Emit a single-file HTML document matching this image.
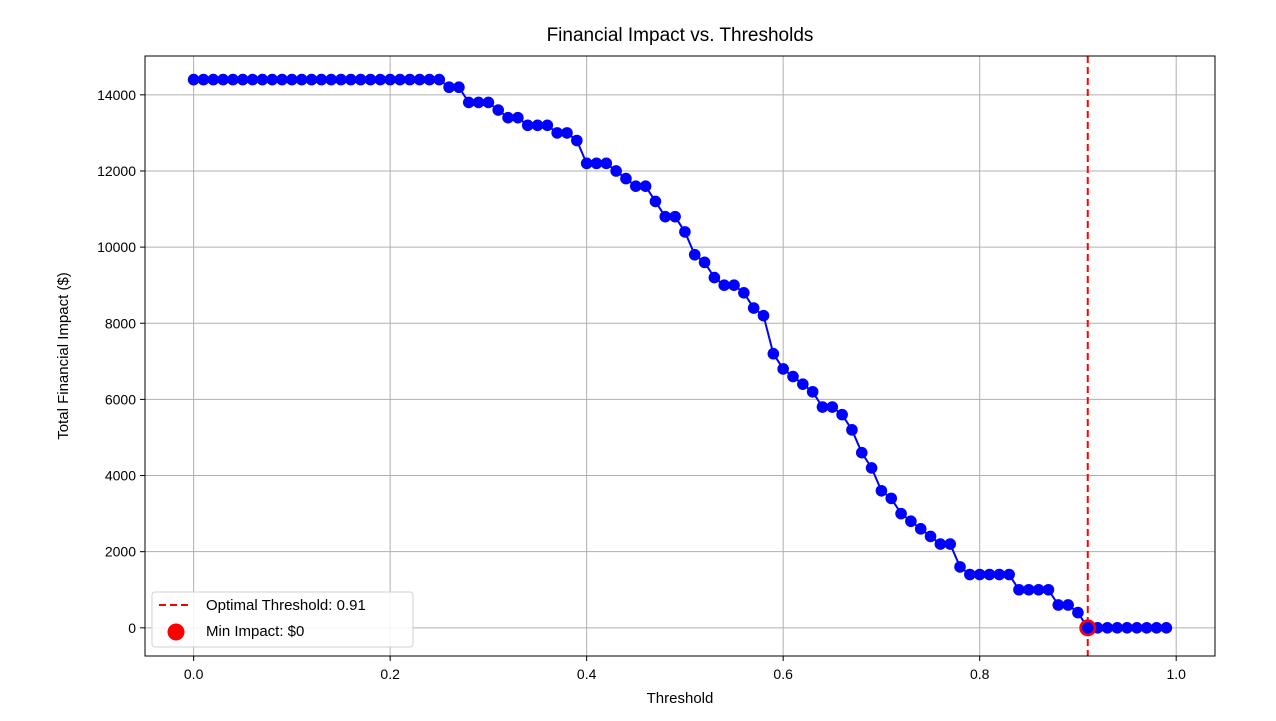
<!DOCTYPE html>
<html><head><meta charset="utf-8"><style>
body{margin:0;background:#fff;width:1276px;height:721px;overflow:hidden}
svg{display:block;font-family:"Liberation Sans","DejaVu Sans",sans-serif}
</style></head><body>
<svg id="chart" width="1276" height="721"></svg>
<script>
const thresholds = [];
for (let i = 0; i < 100; i++) thresholds.push(i / 100);
const impacts = [14400,14400,14400,14400,14400,14400,14400,14400,14400,14400,
14400,14400,14400,14400,14400,14400,14400,14400,14400,14400,
14400,14400,14400,14400,14400,14400,14200,14200,13800,13800,
13800,13600,13400,13400,13200,13200,13200,13000,13000,12800,
12200,12200,12200,12000,11800,11600,11600,11200,10800,10800,
10400,9800,9600,9200,9000,9000,8800,8400,8200,7200,
6800,6600,6400,6200,5800,5800,5600,5200,4600,4200,
3600,3400,3000,2800,2600,2400,2200,2200,1600,1400,
1400,1400,1400,1400,1000,1000,1000,1000,600,600,
400,0,0,0,0,0,0,0,0,0];
const xTicks = [0, 0.2, 0.4, 0.6, 0.8, 1.0];
const xTickLabels = ["0.0","0.2","0.4","0.6","0.8","1.0"];
const yTicks = [0,2000,4000,6000,8000,10000,12000,14000];
const yTickLabels = ["0","2000","4000","6000","8000","10000","12000","14000"];
const optimalThreshold = 0.91;
const minImpact = 0;

const L=145,R=1215,T=56,B=656;
const xMin=-0.0495,xMax=1.0395,yMin=-740,yMax=15020;
const xs=v=>L+(v-xMin)/(xMax-xMin)*(R-L);
const ys=v=>B-(v-yMin)/(yMax-yMin)*(B-T);
const svg=document.getElementById('chart');
const NS='http://www.w3.org/2000/svg';
function mk(tag,attrs,parent){const e=document.createElementNS(NS,tag);for(const k in attrs)e.setAttribute(k,attrs[k]);(parent||svg).appendChild(e);return e;}

let t=mk('text',{x:(L+R)/2,y:41,'text-anchor':'middle','font-size':19,fill:'#000'});
t.textContent='Financial Impact vs. Thresholds';



xTicks.forEach((v,i)=>{
  const x=xs(v);
  const g=mk('line',{x1:x,x2:x,y1:T,y2:B,stroke:'#b0b0b0','stroke-width':1});
  
  
  mk('line',{x1:x,x2:x,y1:B,y2:B+5,stroke:'#000'});
  const tl=mk('text',{x:x,y:B+23,'text-anchor':'middle','font-size':14,fill:'#000'});
  tl.textContent=xTickLabels[i];
  
  
});
yTicks.forEach((v,i)=>{
  const y=ys(v);
  const g=mk('line',{x1:L,x2:R,y1:y,y2:y,stroke:'#b0b0b0','stroke-width':1});
  
  
  mk('line',{x1:L-5,x2:L,y1:y,y2:y,stroke:'#000'});
  const tl=mk('text',{x:L-9,y:y+5,'text-anchor':'end','font-size':14,fill:'#000'});
  tl.textContent=yTickLabels[i];
  
  
});

const pts=thresholds.map((v,i)=>xs(v)+','+ys(impacts[i])).join(' ');
const line=mk('polyline',{points:pts,fill:'none',stroke:'#0000ff','stroke-width':2});


thresholds.forEach((v,i)=>{
  const c=mk('circle',{cx:xs(v),cy:ys(impacts[i]),r:5.8,fill:'#0000ff'});
  
  
});
const vl=mk('line',{x1:xs(optimalThreshold),x2:xs(optimalThreshold),y1:T,y2:B,stroke:'#ff0000','stroke-width':2,'stroke-dasharray':'7,4'});


const mp=mk('circle',{cx:xs(optimalThreshold),cy:ys(minImpact),r:8.5,fill:'#ff0000'});


mk('circle',{cx:xs(optimalThreshold),cy:ys(minImpact),r:5.8,fill:'#0000ff'});

const fr=mk('rect',{x:L,y:T,width:R-L,height:B-T,fill:'none',stroke:'#000','stroke-width':1});



const xl=mk('text',{x:(L+R)/2,y:703,'text-anchor':'middle','font-size':15,fill:'#000'});
xl.textContent='Threshold';


const yl=mk('text',{x:0,y:0,'text-anchor':'middle','font-size':15,fill:'#000',transform:'translate(68,'+((T+B)/2)+') rotate(-90)'});
yl.textContent='Total Financial Impact ($)';



const lg=mk('g',{});


mk('rect',{x:152,y:592,width:261,height:55,rx:3,fill:'#fff','fill-opacity':0.85,stroke:'#d0d0d0'},lg);
mk('line',{x1:159,x2:192,y1:605,y2:605,stroke:'#ff0000','stroke-width':2,'stroke-dasharray':'7,4'},lg);
const le1=mk('text',{x:206,y:610,'font-size':15,fill:'#000'},lg);
le1.textContent='Optimal Threshold: 0.91';


mk('circle',{cx:176,cy:632,r:8.5,fill:'#ff0000'},lg);
const le2=mk('text',{x:206,y:636,'font-size':15,fill:'#000'},lg);
le2.textContent='Min Impact: $0';


</script>
</body></html>
